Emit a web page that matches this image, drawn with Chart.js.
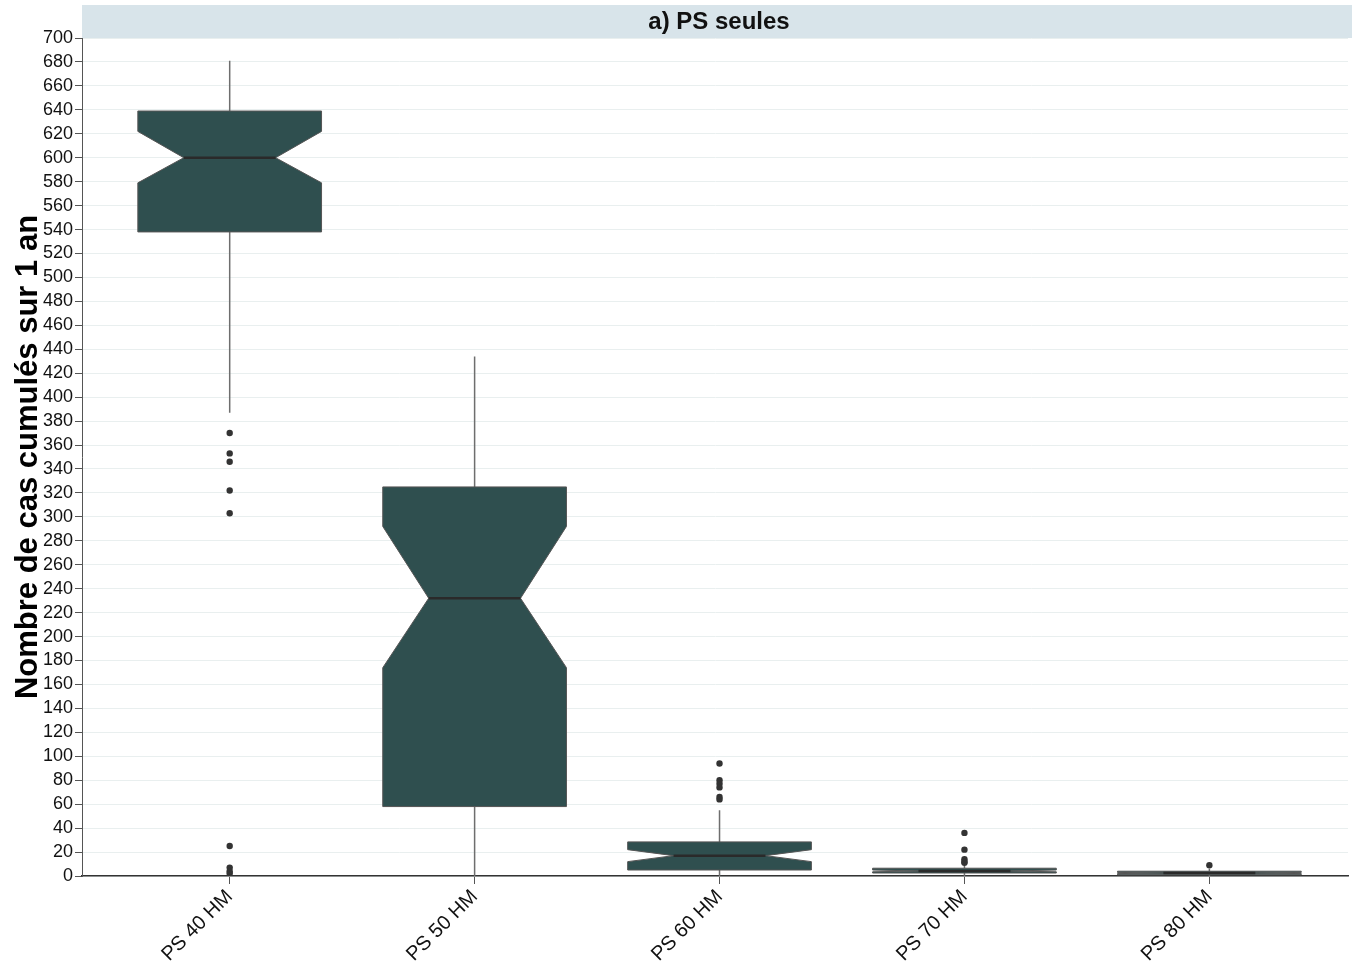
<!DOCTYPE html>
<html>
<head>
<meta charset="utf-8">
<script src="https://cdn.jsdelivr.net/npm/chart.js@4"></script>
<style>
  html, body { margin: 0; padding: 0; background: #fff; }
  #wrap { width: 1352px; height: 963px; }
</style>
</head>
<body>
<div id="wrap"><canvas id="cnv" width="1352" height="963"></canvas></div>
<script>
// values
const categories = ['PS 40 HM', 'PS 50 HM', 'PS 60 HM', 'PS 70 HM', 'PS 80 HM'];
const whiskerLow = [387, 0, 0, 0, 0];
const q1 = [538, 58, 5, 2.5, 1];
const notchLow = [579, 174, 12, 3.5, 2];
const median = [600, 232, 17, 4.2, 2.5];
const notchHigh = [622, 292, 22, 5, 3];
const q3 = [639, 325, 28.5, 6.5, 4];
const whiskerHigh = [681, 434, 55, 9, 6];
const outliers = [
  [370, 353, 346, 322, 303, 25, 7, 4, 2],
  [],
  [94, 80, 77, 74, 66, 64],
  [36, 22, 14, 12, 11],
  [9]
];
const yTicks = { min: 0, max: 700, step: 20 };
const title = 'a) PS seules';
const yTitle = 'Nombre de cas cumulés sur 1 an';

const FONT = '"Liberation Sans", Arial, sans-serif';
const BOX_FILL = '#2f4f4f';
const BOX_HALF = 0.375;

const outlierPoints = outliers.flatMap((arr, i) => arr.map(v => ({ x: i, y: v })));

// draw notched boxes through the chart scales
const boxPlugin = {
  id: 'notchedBoxes',
  beforeDatasetsDraw(chart) {
    const { ctx, scales: { x, y } } = chart;
    ctx.save();
    categories.forEach((c, i) => {
      const xl = x.getPixelForValue(i - BOX_HALF);
      const xr = x.getPixelForValue(i + BOX_HALF);
      const xc = x.getPixelForValue(i);
      const nl = x.getPixelForValue(i - BOX_HALF / 2);
      const nr = x.getPixelForValue(i + BOX_HALF / 2);

      // whiskers
      ctx.strokeStyle = '#6e6e6e';
      ctx.lineWidth = 1.5;
      ctx.beginPath();
      ctx.moveTo(xc, y.getPixelForValue(whiskerHigh[i]));
      ctx.lineTo(xc, y.getPixelForValue(q3[i]));
      ctx.moveTo(xc, y.getPixelForValue(q1[i]));
      ctx.lineTo(xc, y.getPixelForValue(whiskerLow[i]));
      ctx.stroke();

      // box with notch
      ctx.beginPath();
      ctx.moveTo(xl, y.getPixelForValue(q3[i]));
      ctx.lineTo(xr, y.getPixelForValue(q3[i]));
      ctx.lineTo(xr, y.getPixelForValue(notchHigh[i]));
      ctx.lineTo(nr, y.getPixelForValue(median[i]));
      ctx.lineTo(xr, y.getPixelForValue(notchLow[i]));
      ctx.lineTo(xr, y.getPixelForValue(q1[i]));
      ctx.lineTo(xl, y.getPixelForValue(q1[i]));
      ctx.lineTo(xl, y.getPixelForValue(notchLow[i]));
      ctx.lineTo(nl, y.getPixelForValue(median[i]));
      ctx.lineTo(xl, y.getPixelForValue(notchHigh[i]));
      ctx.closePath();
      ctx.fillStyle = BOX_FILL;
      ctx.fill();
      ctx.strokeStyle = '#555';
      ctx.lineWidth = 1;
      ctx.stroke();

      // median
      ctx.strokeStyle = '#2a2a2a';
      ctx.lineWidth = 2.5;
      ctx.beginPath();
      ctx.moveTo(nl, y.getPixelForValue(median[i]));
      ctx.lineTo(nr, y.getPixelForValue(median[i]));
      ctx.stroke();
    });
    ctx.restore();
  }
};

// grey strip with the panel title
const stripPlugin = {
  id: 'strip',
  beforeDraw(chart) {
    const { ctx, chartArea } = chart;
    ctx.save();
    ctx.fillStyle = '#d8e4ea';
    ctx.fillRect(chartArea.left, 5, chart.width - chartArea.left, chartArea.top - 5);
    ctx.fillStyle = '#111';
    ctx.font = 'bold 24px ' + FONT;
    ctx.textAlign = 'center';
    ctx.textBaseline = 'middle';
    ctx.fillText(title, (chartArea.left + chart.width) / 2 + 2, (chartArea.top + 5) / 2 + 1);
    ctx.restore();
  }
};

const ctx = document.getElementById('cnv').getContext('2d');
new Chart(ctx, {
  type: 'scatter',
  data: {
    datasets: [{
      data: outlierPoints,
      pointRadius: 3.2,
      pointBackgroundColor: '#333',
      pointBorderWidth: 0
    }]
  },
  options: {
    responsive: false,
    animation: false,
    layout: { padding: { top: 38, right: 0, left: 0, bottom: 0 } },
    plugins: {
      legend: { display: false },
      tooltip: { enabled: false }
    },
    scales: {
      x: {
        type: 'linear',
        min: -0.603,
        max: 4.566,
        afterBuildTicks: scale => {
          scale.ticks = categories.map((c, i) => ({ value: i }));
        },
        afterFit: scale => { scale.height = 87; },
        border: { display: true, color: '#333', width: 1.5 },
        grid: { color: 'rgba(0,0,0,0)', tickColor: '#555', tickLength: 8, drawOnChartArea: false },
        ticks: {
          minRotation: 45,
          maxRotation: 45,
          autoSkip: false,
          padding: 1,
          color: '#111',
          font: { family: FONT, size: 20 },
          callback: v => categories[v]
        }
      },
      y: {
        min: yTicks.min,
        max: yTicks.max,
        afterFit: scale => { scale.width = 82; },
        border: { display: true, color: '#555', width: 1 },
        grid: { color: '#e9efef', lineWidth: 1, tickColor: '#555', tickLength: 7 },
        ticks: {
          stepSize: yTicks.step,
          autoSkip: false,
          padding: 2,
          color: '#111',
          font: { family: FONT, size: 18 }
        },
        title: {
          display: true,
          text: yTitle,
          color: '#000',
          font: { family: FONT, size: 31, weight: 'bold' },
          padding: { top: 10, bottom: 0 }
        }
      }
    }
  },
  plugins: [stripPlugin, boxPlugin]
});
</script>
</body>
</html>
